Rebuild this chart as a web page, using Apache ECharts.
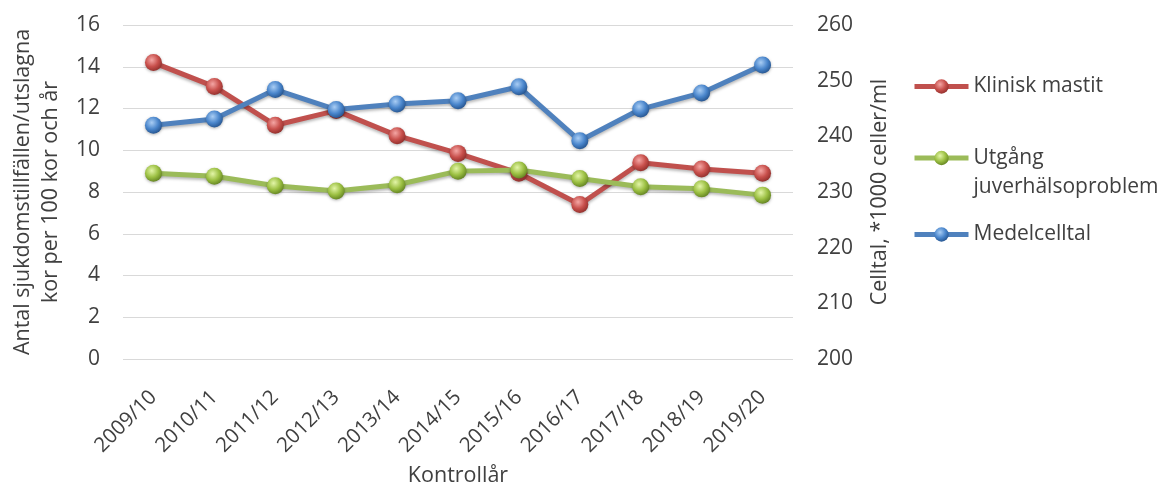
<!DOCTYPE html>
<html>
<head>
<meta charset="utf-8">
<script src="https://cdn.jsdelivr.net/npm/echarts@6/dist/echarts.min.js"></script>
<style>
  html, body { margin: 0; padding: 0; background: #fff; }
  #chart { width: 1160px; height: 489px; }
</style>
</head>
<body>
<div id="chart"></div>
<script>
// Control years (x axis)
const years = ['2009/10','2010/11','2011/12','2012/13','2013/14','2014/15','2015/16','2016/17','2017/18','2018/19','2019/20'];

// Cases per 100 cows and year (left axis)
const kliniskMastit = [14.2, 13.05, 11.2, 11.9, 10.7, 9.85, 8.9, 7.4, 9.4, 9.1, 8.9];
const utgangJuver = [8.9, 8.75, 8.3, 8.05, 8.35, 9.0, 9.05, 8.65, 8.25, 8.15, 7.85];

// Mean cell count, *1000 cells/ml (right axis)
const medelcelltal = [242.0, 243.1, 248.4, 244.8, 245.8, 246.4, 248.9, 239.2, 244.9, 247.8, 252.8];

// Axis ticks
const leftTicks = { min: 0, max: 16, interval: 2 };
const rightTicks = { min: 200, max: 260, interval: 10 };

const FONT = 'Open Sans';
const TEXT = '#404040';

function sphere(light, base, dark) {
  return {
    type: 'radial', x: 0.4, y: 0.35, r: 0.7,
    colorStops: [
      { offset: 0, color: light },
      { offset: 0.55, color: base },
      { offset: 1, color: dark }
    ]
  };
}

const palette = {
  red:   { line: '#c0504d', sphere: sphere('#f4a6a4', '#c8504c', '#8e2d2a') },
  green: { line: '#9bbb59', sphere: sphere('#e3f5a8', '#9cc043', '#5f7f1f') },
  blue:  { line: '#4f81bd', sphere: sphere('#a9cdf4', '#4a86cc', '#22508a') }
};

function lineSeries(name, data, col, yAxisIndex) {
  return {
    name, type: 'line', data, yAxisIndex,
    symbol: 'circle', symbolSize: 17,
    lineStyle: {
      color: col.line, width: 5,
      shadowColor: 'rgba(0,0,0,0.28)', shadowBlur: 3, shadowOffsetY: 2
    },
    itemStyle: {
      color: col.sphere, borderWidth: 0,
      shadowColor: 'rgba(0,0,0,0.3)', shadowBlur: 3, shadowOffsetY: 1
    },
    emphasis: { disabled: true },
    animation: false
  };
}

// One legend block per series so each entry sits at its own height
function legendAt(name, top, extra) {
  return Object.assign({
    data: [name],
    orient: 'vertical',
    left: 912, top,
    padding: 0,
    itemWidth: 54, itemHeight: 18, itemGap: 0,
    selectedMode: false,
    lineStyle: { width: 5 },
    textStyle: { fontFamily: FONT, fontSize: 21, color: TEXT }
  }, extra || {});
}

const chart = echarts.init(document.getElementById('chart'), null, { renderer: 'canvas' });

chart.setOption({
  backgroundColor: '#ffffff',
  animation: false,
  textStyle: { fontFamily: FONT },
  grid: { left: 123, right: 367, top: 25, bottom: 130, outerBoundsMode: 'none', containLabel: false },
  legend: [
    legendAt('Klinisk mastit', 76),
    // a blank leading line keeps "Utgång" level with the icon
    legendAt('Utgång\njuverhälsoproblem', 114.5, {
      formatter: name => '\n' + name,
      textStyle: { fontFamily: FONT, fontSize: 21, color: TEXT, lineHeight: 29 }
    }),
    legendAt('Medelcelltal', 224)
  ],
  xAxis: {
    type: 'category',
    data: years,
    boundaryGap: true,
    name: 'Kontrollår',
    nameLocation: 'middle',
    nameGap: 106,
    nameTextStyle: { fontFamily: FONT, fontSize: 21.5, color: TEXT },
    axisLine: { show: false },
    axisTick: { show: false },
    axisLabel: { rotate: 45, fontFamily: FONT, fontSize: 20.5, color: TEXT, margin: 35, interval: 0 }
  },
  yAxis: [
    {
      type: 'value',
      min: leftTicks.min, max: leftTicks.max, interval: leftTicks.interval,
      position: 'left',
      name: 'Antal sjukdomstillfällen/utslagna\nkor per 100 kor och år',
      nameLocation: 'middle',
      nameGap: 55,
      nameTextStyle: { fontFamily: FONT, fontSize: 21.5, color: TEXT, lineHeight: 28 },
      axisLine: { show: false },
      axisTick: { show: false },
      axisLabel: { fontFamily: FONT, fontSize: 21, color: TEXT, margin: 23 },
      splitLine: { show: true, lineStyle: { color: '#d9d9d9', width: 1 } }
    },
    {
      type: 'value',
      min: rightTicks.min, max: rightTicks.max, interval: rightTicks.interval,
      position: 'right',
      name: 'Celltal, *1000 celler/ml',
      nameLocation: 'middle',
      nameGap: 73,
      nameTextStyle: { fontFamily: FONT, fontSize: 21.5, color: TEXT, lineHeight: 28 },
      axisLine: { show: false },
      axisTick: { show: false },
      axisLabel: { fontFamily: FONT, fontSize: 21, color: TEXT, margin: 24 },
      splitLine: { show: false }
    }
  ],
  series: [
    lineSeries('Klinisk mastit', kliniskMastit, palette.red, 0),
    lineSeries('Utgång\njuverhälsoproblem', utgangJuver, palette.green, 0),
    lineSeries('Medelcelltal', medelcelltal, palette.blue, 1)
  ]
});
</script>
</body>
</html>
